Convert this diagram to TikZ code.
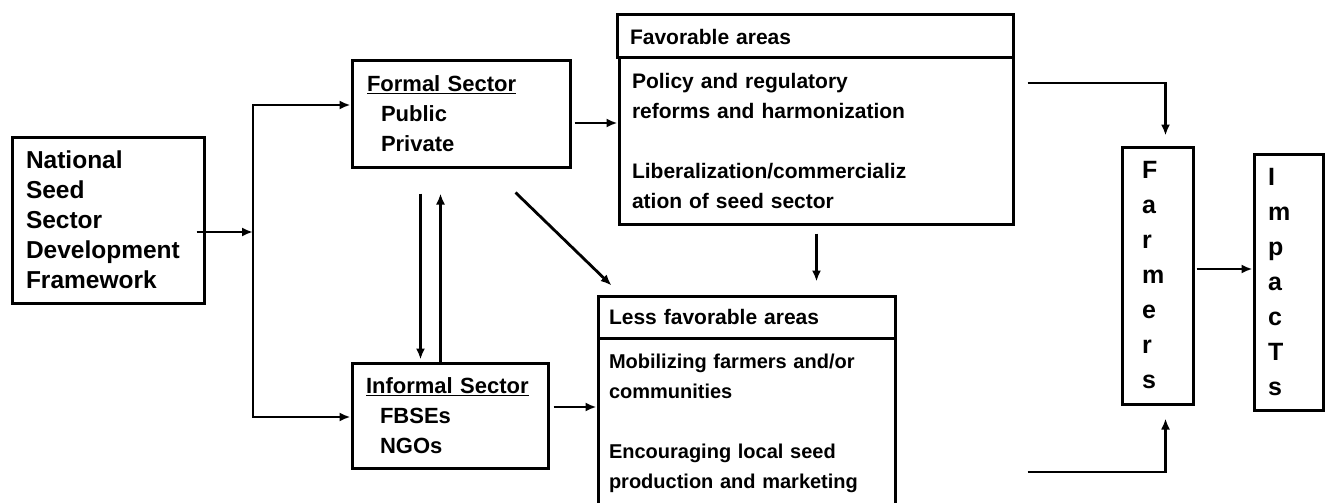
\documentclass[tikz,border=0pt]{standalone}
\usepackage{fontspec}
\setmainfont{Liberation Sans}
\usepackage{tikz}
\usetikzlibrary{calc,arrows.meta}

\begin{document}
\begin{tikzpicture}[x=1pt,y=-1pt,
  box/.style={draw, line width=3pt, rectangle, align=left, inner ysep=0pt},
  txt/.style 2 args={font=\bfseries\fontsize{#1}{#2}\selectfont},
  arr/.style={-{Latex[length=11pt,width=9pt]}, line width=2.8pt}]
\useasboundingbox (0,0) rectangle (1331,503);
\clip (0,0) rectangle (1331,503);

% left part
\node[box, txt={24.5}{30}, minimum width=192pt, minimum height=166pt, text width=164pt, inner xsep=14pt] (nat) at (108,220)
  {National\\Seed\\Sector\\Development\\Framework};
\node[box, txt={22}{30}, minimum width=218pt, minimum height=106pt, text width=188pt, inner xsep=15pt] (formal) at (461,114)
  {\underline{Formal Sector}\\\hspace*{14pt}Public\\\hspace*{14pt}Private};
\node[box, txt={22}{30}, minimum width=196pt, minimum height=105pt, text width=168pt, inner xsep=14pt] (informal) at (450,415.5)
  {\underline{Informal Sector}\\\hspace*{14pt}FBSEs\\\hspace*{14pt}NGOs};

% areas
\node[box, txt={21}{25}, minimum width=396pt, minimum height=43pt, text width=370pt, inner xsep=13pt] (favhead) at (815,36.5)
  {Favorable areas};
\node[box, txt={21}{30}, minimum width=394pt, minimum height=166pt, text width=368pt, inner xsep=13pt] (favmain) at (816,141)
  {Policy and regulatory\\reforms and harmonization\\[30pt]Liberalization/commercializ\\ation of seed sector};
\node[box, txt={21}{25}, minimum width=297pt, minimum height=42pt, text width=275pt, inner xsep=11pt] (lesshead) at (746.5,317)
  {Less favorable areas};
\node[box, txt={20}{30}, minimum width=297pt, minimum height=170pt, text width=275pt, inner xsep=11pt] (lessmain) at (746.5,423)
  {Mobilizing farmers and/or\\communities\\[30pt]Encouraging local seed\\production and marketing};

% farmers and impacts
\node[box, txt={25}{35}, minimum width=71pt, minimum height=257pt, text width=31pt, inner xsep=20pt] (farmers) at (1157.5,275.5)
  {F\\a\\r\\m\\e\\r\\s};
\node[box, txt={25}{35}, minimum width=69pt, minimum height=256pt, text width=41pt, inner xsep=14pt] (impacts) at (1288.5,282)
  {I\\m\\p\\a\\c\\T\\s};

\coordinate (forkT) at (253,105);
\coordinate (forkM) at (253,232);
\coordinate (forkB) at (253,417);

\draw[arr] ($(nat.east)+(-9,12)$) -- (forkM);
\draw[{Latex[length=11pt,width=9pt]}-{Latex[length=11pt,width=9pt]}, line width=2.8pt]
  (forkT -| formal.west) -- (forkT) -- (forkB) -- (forkB -| informal.west);

\draw[arr] ($(formal.east)+(3,9)$) -- ($(favmain.west)+(0,-18)$);
\draw[arr] ($(formal.south east)+(-56,24)$) -- ($(lesshead.north west)+(15,-9)$);
\draw[arr] ($(formal.south west)+(70,25)$) -- ($(informal.north west)+(70,-2)$);
\draw[arr] ($(informal.north west)+(90,0)$) -- ($(formal.south west)+(90,25)$);
\draw[arr] ($(favmain.south west)+(199,8)$) -- ($(lesshead.north west)+(220,-13)$);
\draw[arr] ($(informal.east)+(4,-8.5)$) -- ($(lessmain.west)+(0,-16)$);

\draw[arr] ($(favmain.east)+(13,-58)$) -| ($(farmers.north)+(8,-10)$);
\draw[arr] ($(lessmain.east)+(131,49)$) -| ($(farmers.south)+(8,13)$);
\draw[arr] ($(farmers.east)+(2,-6.5)$) -- ($(impacts.west)+(0,-13)$);
\end{tikzpicture}
\end{document}
